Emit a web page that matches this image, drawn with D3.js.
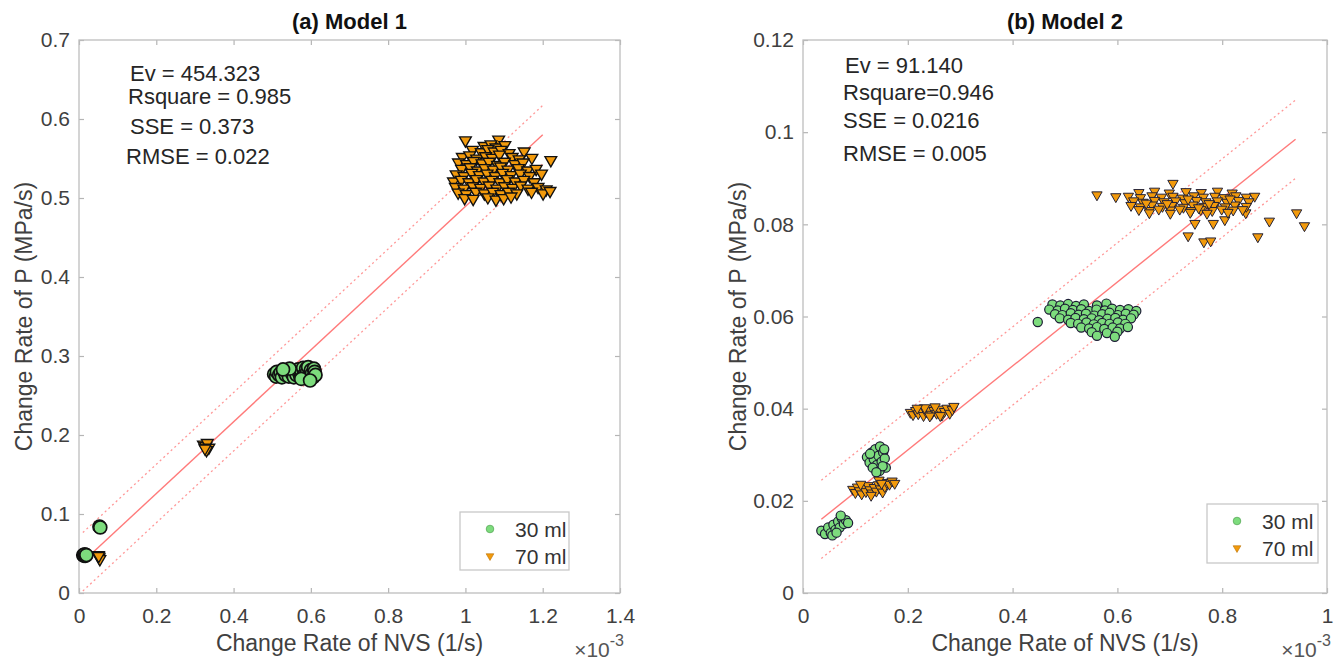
<!DOCTYPE html>
<html>
<head>
<meta charset="utf-8">
<script src="https://cdn.jsdelivr.net/npm/d3@7"></script>
<style>
  body { margin: 0; background: #fff; }
  text { font-family: "Liberation Sans", Arial, sans-serif; }
</style>
</head>
<body>
<svg id="chart" width="1337" height="664"></svg>
<script>
// ---- data (x in 1e-3 1/s, y in MPa/s) ----
const seriesNames = ["30 ml", "70 ml"];

const xTicksModel1 = [0, 0.2, 0.4, 0.6, 0.8, 1, 1.2, 1.4];
const yTicksModel1 = [0, 0.1, 0.2, 0.3, 0.4, 0.5, 0.6, 0.7];
const xTicksModel2 = [0, 0.2, 0.4, 0.6, 0.8, 1];
const yTicksModel2 = [0, 0.02, 0.04, 0.06, 0.08, 0.1, 0.12];

const statsModel1 = ["Ev = 454.323", "Rsquare = 0.985", "SSE = 0.373", "RMSE = 0.022"];
const statsModel2 = ["Ev = 91.140", "Rsquare=0.946", "SSE = 0.0216", "RMSE = 0.005"];

// fit: y = Ev * x * 1e-3 + intercept, band = half width of dotted bounds
const fitModel1 = { ev: 454.323, intercept: 0.035, band: 0.037, from: 0.01, to: 1.2 };
const fitModel2 = { ev: 91.14, intercept: 0.0128, band: 0.0085, from: 0.035, to: 0.94 };

// Model 1, 30 ml
const model1Ml30 = [
  [0.011, 0.048], [0.013, 0.047], [0.015, 0.049], [0.017, 0.047], [0.019, 0.048],
  [0.053, 0.084], [0.055, 0.083],
  [0.505, 0.277], [0.510, 0.274], [0.512, 0.280], [0.518, 0.276], [0.522, 0.279],
  [0.525, 0.273], [0.530, 0.281], [0.535, 0.276], [0.540, 0.279], [0.543, 0.274],
  [0.548, 0.282], [0.552, 0.277], [0.556, 0.273], [0.560, 0.280], [0.563, 0.276],
  [0.567, 0.283], [0.570, 0.278], [0.573, 0.273], [0.576, 0.281], [0.580, 0.285],
  [0.582, 0.276], [0.585, 0.272], [0.588, 0.284], [0.590, 0.279], [0.593, 0.286],
  [0.595, 0.275], [0.597, 0.271], [0.600, 0.282], [0.603, 0.278], [0.606, 0.273],
  [0.608, 0.284], [0.610, 0.280], [0.612, 0.276], [0.545, 0.284], [0.528, 0.283],
  [0.575, 0.271], [0.598, 0.269]
];

// Model 1, 70 ml
const model1Ml70 = [
  [0.050, 0.048], [0.052, 0.045], [0.054, 0.043], [0.051, 0.047],
  [0.322, 0.188], [0.328, 0.186], [0.332, 0.190], [0.336, 0.184], [0.330, 0.181], [0.326, 0.183],
  [1.000, 0.573], [1.086, 0.574],
  [1.048, 0.566], [1.066, 0.568], [1.079, 0.564], [1.102, 0.567],
  [1.018, 0.561], [1.041, 0.558], [1.058, 0.562], [1.074, 0.559], [1.092, 0.561], [1.113, 0.557], [1.152, 0.559],
  [0.992, 0.552], [1.011, 0.554], [1.029, 0.550], [1.052, 0.553], [1.069, 0.551], [1.088, 0.555],
  [1.121, 0.552], [1.139, 0.549], [1.172, 0.551],
  [0.982, 0.545], [1.003, 0.543], [1.021, 0.547], [1.043, 0.544], [1.061, 0.546], [1.083, 0.542],
  [1.101, 0.546], [1.128, 0.543], [1.149, 0.545], [1.221, 0.548],
  [0.990, 0.537], [1.012, 0.539], [1.031, 0.535], [1.050, 0.538], [1.072, 0.536], [1.091, 0.540],
  [1.110, 0.536], [1.137, 0.538], [1.161, 0.535], [1.183, 0.537],
  [0.976, 0.530], [0.996, 0.528], [1.016, 0.532], [1.036, 0.529], [1.056, 0.531], [1.077, 0.528],
  [1.096, 0.532], [1.118, 0.529], [1.142, 0.531], [1.166, 0.528], [1.197, 0.531],
  [0.969, 0.521], [0.989, 0.523], [1.009, 0.520], [1.028, 0.524], [1.048, 0.521], [1.068, 0.523],
  [1.089, 0.520], [1.108, 0.524], [1.129, 0.521], [1.151, 0.523], [1.178, 0.520],
  [0.974, 0.514], [0.996, 0.512], [1.019, 0.515], [1.039, 0.513], [1.061, 0.516], [1.081, 0.512],
  [1.101, 0.515], [1.122, 0.513], [1.143, 0.516], [1.162, 0.512], [1.188, 0.514], [1.209, 0.511],
  [0.981, 0.507], [1.002, 0.505], [1.027, 0.508], [1.049, 0.506], [1.071, 0.508], [1.092, 0.505],
  [1.112, 0.508], [1.133, 0.506], [1.171, 0.508], [1.201, 0.506], [1.219, 0.509],
  [0.998, 0.500], [1.020, 0.499], [1.058, 0.501], [1.079, 0.498], [1.099, 0.500], [1.118, 0.502]
];

// Model 2, 30 ml
const model2Ml30 = [
  [0.035, 0.0135], [0.042, 0.0128], [0.048, 0.0142], [0.053, 0.0130], [0.058, 0.0148],
  [0.062, 0.0137], [0.067, 0.0155], [0.070, 0.0142], [0.074, 0.0162], [0.078, 0.0150],
  [0.082, 0.0158], [0.086, 0.0152], [0.072, 0.0168], [0.056, 0.0125], [0.064, 0.0131],
  [0.122, 0.0295], [0.127, 0.0283], [0.131, 0.0305], [0.135, 0.0290], [0.138, 0.0312],
  [0.141, 0.0278], [0.144, 0.0298], [0.147, 0.0318], [0.150, 0.0285], [0.153, 0.0305],
  [0.156, 0.0292], [0.158, 0.0272], [0.146, 0.0265], [0.152, 0.0275], [0.133, 0.0272],
  [0.140, 0.0262], [0.128, 0.0302], [0.155, 0.0312],
  [0.448, 0.0588],
  [0.476, 0.0626], [0.491, 0.0624], [0.506, 0.0627], [0.521, 0.0623], [0.536, 0.0626], [0.561, 0.0624], [0.579, 0.0628],
  [0.470, 0.0615], [0.486, 0.0613], [0.500, 0.0617], [0.515, 0.0614], [0.531, 0.0616], [0.546, 0.0612],
  [0.560, 0.0615], [0.576, 0.0613], [0.590, 0.0617], [0.605, 0.0614], [0.621, 0.0616], [0.636, 0.0612],
  [0.481, 0.0605], [0.495, 0.0603], [0.511, 0.0607], [0.526, 0.0604], [0.540, 0.0606], [0.556, 0.0602],
  [0.571, 0.0605], [0.585, 0.0608], [0.601, 0.0603], [0.616, 0.0606], [0.631, 0.0604],
  [0.490, 0.0596], [0.506, 0.0593], [0.520, 0.0597], [0.536, 0.0594], [0.551, 0.0596], [0.565, 0.0592],
  [0.581, 0.0595], [0.596, 0.0597], [0.611, 0.0593], [0.626, 0.0596],
  [0.511, 0.0586], [0.525, 0.0584], [0.541, 0.0587], [0.555, 0.0583], [0.571, 0.0586], [0.585, 0.0584],
  [0.601, 0.0587], [0.615, 0.0584],
  [0.531, 0.0576], [0.546, 0.0574], [0.561, 0.0577], [0.575, 0.0573], [0.591, 0.0576], [0.605, 0.0574], [0.620, 0.0577],
  [0.551, 0.0566], [0.580, 0.0564], [0.600, 0.0567],
  [0.561, 0.0558], [0.595, 0.0556]
];

// Model 2, 70 ml
const model2Ml70 = [
  [0.095, 0.0225], [0.100, 0.0218], [0.104, 0.0230], [0.108, 0.0222], [0.112, 0.0215],
  [0.116, 0.0228], [0.120, 0.0220], [0.124, 0.0233], [0.128, 0.0224], [0.132, 0.0217],
  [0.136, 0.0229], [0.140, 0.0221], [0.144, 0.0235], [0.148, 0.0226], [0.152, 0.0219],
  [0.156, 0.0231], [0.160, 0.0240], [0.165, 0.0236], [0.170, 0.0243], [0.175, 0.0238],
  [0.145, 0.0245], [0.150, 0.0238], [0.110, 0.0236], [0.130, 0.0212],
  [0.205, 0.0392], [0.210, 0.0387], [0.215, 0.0396], [0.220, 0.0389], [0.225, 0.0398],
  [0.230, 0.0385], [0.235, 0.0393], [0.240, 0.0400], [0.245, 0.0388], [0.250, 0.0396],
  [0.255, 0.0390], [0.260, 0.0399], [0.265, 0.0386], [0.270, 0.0394], [0.275, 0.0401],
  [0.280, 0.0390], [0.285, 0.0398], [0.288, 0.0405], [0.232, 0.0402], [0.252, 0.0404],
  [0.218, 0.0401], [0.262, 0.0385], [0.242, 0.0384],
  [0.561, 0.0864], [0.597, 0.0860], [0.706, 0.0889], [0.890, 0.0807], [0.868, 0.0773],
  [0.735, 0.0775], [0.765, 0.0762], [0.778, 0.0764], [0.748, 0.0802], [0.783, 0.0802],
  [0.805, 0.0810], [0.845, 0.0825], [0.942, 0.0825], [0.957, 0.0797],
  [0.641, 0.0869], [0.671, 0.0872], [0.699, 0.0868], [0.731, 0.0871], [0.760, 0.0869], [0.791, 0.0872], [0.819, 0.0868],
  [0.621, 0.0861], [0.644, 0.0858], [0.666, 0.0862], [0.684, 0.0859], [0.706, 0.0861], [0.724, 0.0857],
  [0.746, 0.0862], [0.764, 0.0859], [0.786, 0.0861], [0.804, 0.0858], [0.826, 0.0862], [0.846, 0.0859], [0.862, 0.0861],
  [0.631, 0.0851], [0.649, 0.0848], [0.671, 0.0852], [0.689, 0.0849], [0.711, 0.0851], [0.729, 0.0847],
  [0.751, 0.0852], [0.769, 0.0849], [0.791, 0.0851], [0.809, 0.0848], [0.831, 0.0852], [0.851, 0.0849],
  [0.626, 0.0841], [0.644, 0.0838], [0.666, 0.0842], [0.686, 0.0839], [0.704, 0.0841], [0.726, 0.0837],
  [0.744, 0.0842], [0.766, 0.0839], [0.784, 0.0841], [0.806, 0.0838], [0.824, 0.0842], [0.846, 0.0839],
  [0.641, 0.0832], [0.661, 0.0830], [0.679, 0.0833], [0.701, 0.0831], [0.719, 0.0833], [0.741, 0.0830],
  [0.759, 0.0832], [0.781, 0.0830], [0.799, 0.0833], [0.821, 0.0831], [0.839, 0.0832],
  [0.661, 0.0825], [0.701, 0.0824], [0.739, 0.0826], [0.771, 0.0824], [0.811, 0.0826],
  [0.655, 0.0846], [0.695, 0.0845], [0.735, 0.0855], [0.775, 0.0845], [0.815, 0.0855], [0.755, 0.0836]
];

// ---- layout ----
const green = "#7ddc7d";
const orange = "#f29a0c";
const fitColor = "#ff6b6b";

const panels = [
  {
    title: "(a) Model 1", left: 79, right: 620, top: 40, bottom: 593,
    xMax: 1.4, yMax: 0.7, xTicks: xTicksModel1, yTicks: yTicksModel1,
    ml30: model1Ml30, ml70: model1Ml70, fit: fitModel1,
    stats: statsModel1, statsX: [130, 128, 130, 126], statsY: [81, 104, 134, 164],
    r: 6.5, tri: 60, edge: "#111", edgeW: 1.7,
    legend: { x: 460, y: 512, w: 109, h: 58 }, yLabelX: 32
  },
  {
    title: "(b) Model 2", left: 803, right: 1327, top: 40, bottom: 593,
    xMax: 1, yMax: 0.12, xTicks: xTicksModel2, yTicks: yTicksModel2,
    ml30: model2Ml30, ml70: model2Ml70, fit: fitModel2,
    stats: statsModel2, statsX: [845, 843, 843, 843], statsY: [73, 100, 128, 161],
    r: 4.6, tri: 46, edge: "#1c1c34", edgeW: 1.2,
    legend: { x: 1207, y: 504, w: 111, h: 59 }, yLabelX: 746
  }
];

const svg = d3.select("#chart");
const fmt = (d) => String(+d.toFixed(3));

function styleAxis(sel) {
  sel.select(".domain").remove();
  sel.selectAll(".tick line").attr("stroke", "#b5b5b5").attr("stroke-width", 1.2);
  sel.selectAll(".tick text").attr("fill", "#404040").style("font-size", "21px")
    .style("font-family", '"Liberation Sans", Arial, sans-serif');
}

function drawPanel(p) {
  const x = d3.scaleLinear().domain([0, p.xMax]).range([p.left, p.right]);
  const y = d3.scaleLinear().domain([0, p.yMax]).range([p.bottom, p.top]);
  const g = svg.append("g");

  // axes (ticks inside on all four sides)
  g.append("g").attr("transform", `translate(0,${p.bottom})`)
    .call(d3.axisBottom(x).tickValues(p.xTicks).tickFormat(fmt).tickSizeInner(-5).tickSizeOuter(0).tickPadding(15))
    .call(styleAxis);
  g.append("g").attr("transform", `translate(${p.left},0)`)
    .call(d3.axisLeft(y).tickValues(p.yTicks).tickFormat(fmt).tickSizeInner(-5).tickSizeOuter(0).tickPadding(9))
    .call(styleAxis);
  g.append("g").attr("transform", `translate(0,${p.top})`)
    .call(d3.axisTop(x).tickValues(p.xTicks).tickFormat("").tickSizeInner(-5).tickSizeOuter(0))
    .call(styleAxis);
  g.append("g").attr("transform", `translate(${p.right},0)`)
    .call(d3.axisRight(y).tickValues(p.yTicks).tickFormat("").tickSizeInner(-5).tickSizeOuter(0))
    .call(styleAxis);

  g.append("rect")
    .attr("x", p.left).attr("y", p.top)
    .attr("width", p.right - p.left).attr("height", p.bottom - p.top)
    .attr("fill", "none").attr("stroke", "#bdbdbd").attr("stroke-width", 1.3);

  // fit line and bounds
  const f = p.fit;
  const fitY = (v, off) => f.ev * v * 1e-3 + f.intercept + off;
  const line = d3.line().x((d) => x(d[0])).y((d) => y(d[1]));
  [-f.band, 0, f.band].forEach((off) => {
    g.append("path")
      .datum([[f.from, fitY(f.from, off)], [f.to, fitY(f.to, off)]])
      .attr("d", line)
      .attr("fill", "none")
      .attr("stroke", fitColor)
      .attr("stroke-width", off === 0 ? 1.4 : 1.3)
      .attr("stroke-dasharray", off === 0 ? null : "2,3")
      .attr("opacity", off === 0 ? 0.9 : 0.7);
  });

  // markers
  g.selectAll("circle.ml30")
    .data(p.ml30)
    .enter()
    .append("circle")
    .attr("class", "ml30")
    .attr("cx", (d) => x(d[0]))
    .attr("cy", (d) => y(d[1]))
    .attr("r", p.r)
    .attr("fill", green)
    .attr("stroke", p.edge)
    .attr("stroke-width", p.edgeW);

  const tri = d3.symbol().type(d3.symbolTriangle).size(p.tri);
  g.selectAll("path.ml70")
    .data(p.ml70)
    .enter()
    .append("path")
    .attr("class", "ml70")
    .attr("d", tri)
    .attr("transform", (d) => `translate(${x(d[0])},${y(d[1])}) rotate(180)`)
    .attr("fill", orange)
    .attr("stroke", p.edge)
    .attr("stroke-width", p.edgeW * 0.8);

  // fit statistics
  p.stats.forEach((s, i) => {
    g.append("text")
      .attr("x", p.statsX[i]).attr("y", p.statsY[i])
      .attr("fill", "#262626").style("font-size", "22px")
      .text(s);
  });

  // titles and labels
  const cx = (p.left + p.right) / 2;
  g.append("text").attr("x", cx).attr("y", 29).attr("text-anchor", "middle")
    .attr("fill", "#111").style("font-size", "22px").style("font-weight", "bold")
    .text(p.title);
  g.append("text").attr("x", cx).attr("y", 651).attr("text-anchor", "middle")
    .attr("fill", "#404040").style("font-size", "23px")
    .text("Change Rate of NVS (1/s)");
  g.append("text")
    .attr("transform", `translate(${p.yLabelX},${(p.top + p.bottom) / 2}) rotate(-90)`)
    .attr("text-anchor", "middle")
    .attr("fill", "#404040").style("font-size", "23px")
    .text("Change Rate of P (MPa/s)");
  const exp = g.append("text").attr("x", p.right + 4).attr("y", 657).attr("text-anchor", "end")
    .attr("fill", "#555").style("font-size", "21px");
  exp.append("tspan").text("\u00d710");
  exp.append("tspan").attr("dy", -11).style("font-size", "16px").text("-3");

  // legend
  const L = p.legend;
  g.append("rect").attr("x", L.x).attr("y", L.y).attr("width", L.w).attr("height", L.h)
    .attr("fill", "#fff").attr("stroke", "#c8c8c8").attr("stroke-width", 1.3);
  const mx = L.x + 30;
  g.append("circle").attr("cx", mx).attr("cy", L.y + 17).attr("r", 3.8)
    .attr("fill", green).attr("stroke", "#5aaa5a").attr("stroke-width", 0.8);
  g.append("path").attr("d", d3.symbol().type(d3.symbolTriangle).size(26))
    .attr("transform", `translate(${mx},${L.y + 44}) rotate(180)`)
    .attr("fill", orange).attr("stroke", "#b86f00").attr("stroke-width", 0.6);
  seriesNames.forEach((n, i) => {
    g.append("text").attr("x", L.x + 55).attr("y", L.y + 25 + i * 27)
      .attr("fill", "#333").style("font-size", "21px").text(n);
  });
}

panels.forEach(drawPanel);
</script>
</body>
</html>
